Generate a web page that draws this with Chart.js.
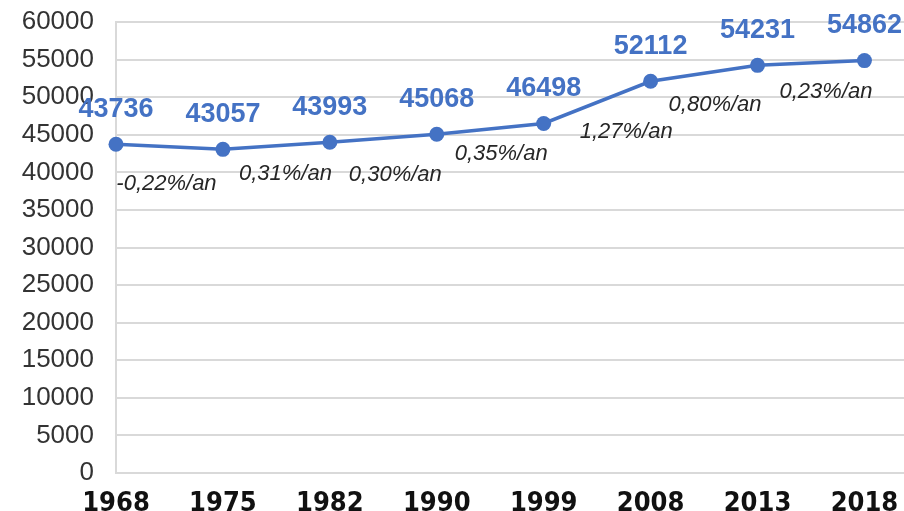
<!DOCTYPE html>
<html>
<head>
<meta charset="utf-8">
<script src="https://cdn.jsdelivr.net/npm/chart.js@4/dist/chart.umd.min.js"></script>
<style>
  html, body { margin: 0; padding: 0; background: #fff; overflow: hidden; }
  #wrap { width: 904px; height: 511px; }
</style>
</head>
<body>
<div id="wrap"><canvas id="myChart"></canvas></div>
<script>
// chart data
const years = ['1968', '1975', '1982', '1990', '1999', '2008', '2013', '2018'];
const population = [43736, 43057, 43993, 45068, 46498, 52112, 54231, 54862];
const growthRates = ['-0,22%/an', '0,31%/an', '0,30%/an', '0,35%/an', '1,27%/an', '0,80%/an', '0,23%/an'];
const yTicks = [0, 5000, 10000, 15000, 20000, 25000, 30000, 35000, 40000, 45000, 50000, 55000, 60000];

const blue = '#4472C4';
const grid = '#d9d9d9';

// small nudges for the rate labels (relative to segment midpoint)
const rateNudge = [[-3, 37], [9, 28], [12, 37], [11, 25], [29, 29], [11, 32], [15, 29]];

// value labels above points + growth rates under each segment
const labelsPlugin = {
  id: 'labels',
  afterDatasetsDraw(chart) {
    const ctx = chart.ctx;
    const pts = chart.getDatasetMeta(0).data;
    ctx.save();
    ctx.textAlign = 'center';
    ctx.textBaseline = 'middle';

    ctx.fillStyle = blue;
    ctx.font = 'bold 27px "Liberation Sans", Arial, sans-serif';
    pts.forEach((p, i) => {
      ctx.fillText(String(population[i]), p.x, p.y - 35);
    });

    ctx.fillStyle = '#262626';
    ctx.font = 'italic 22px "Liberation Sans", Arial, sans-serif';
    growthRates.forEach((txt, i) => {
      const a = pts[i], b = pts[i + 1];
      const n = rateNudge[i];
      ctx.fillText(txt, (a.x + b.x) / 2 + n[0], (a.y + b.y) / 2 + n[1]);
    });
    ctx.restore();
  }
};

var ctx = document.getElementById('myChart').getContext('2d');

var myChart = new Chart(ctx, {
  type: 'line',
  data: {
    datasets: [{
      data: population.map((v, i) => ({ x: i, y: v })),
      borderColor: blue,
      backgroundColor: blue,
      borderWidth: 3.5,
      pointRadius: 7.5,
      pointBorderWidth: 0,
      tension: 0,
      clip: false
    }]
  },
  options: {
    responsive: true,
    maintainAspectRatio: false,
    animation: false,
    layout: { autoPadding: false, padding: { top: 22, right: 0, bottom: 0, left: 0 } },
    plugins: {
      legend: { display: false },
      tooltip: { enabled: false }
    },
    scales: {
      x: {
        type: 'linear',
        min: 0,
        max: 7.37,
        afterBuildTicks(scale) {
          scale.ticks = years.map((y, i) => ({ value: i }));
        },
        afterFit(scale) {
          scale.height = 38;
          scale.paddingLeft = 0;
          scale.paddingRight = 0;
        },
        grid: { display: false, drawTicks: false },
        border: { color: grid, width: 2 },
        ticks: {
          padding: 15,
          color: '#111',
          font: { family: '"DejaVu Sans Condensed", "DejaVu Sans", sans-serif', size: 27, weight: 'bold' },
          callback: (v) => years[v]
        }
      },
      y: {
        min: 0,
        max: 60000,
        afterBuildTicks(scale) {
          scale.ticks = yTicks.map(v => ({ value: v }));
        },
        afterFit(scale) {
          scale.width = 116;
          scale.paddingTop = 0;
          scale.paddingBottom = 0;
        },
        grid: { color: grid, lineWidth: 2, drawTicks: false },
        border: { color: grid, width: 2 },
        ticks: {
          padding: 22,
          color: '#333',
          font: { family: '"Liberation Sans", Arial, sans-serif', size: 26 },
          callback: (v) => String(v)
        }
      }
    }
  },
  plugins: [labelsPlugin]
});
</script>
</body>
</html>
